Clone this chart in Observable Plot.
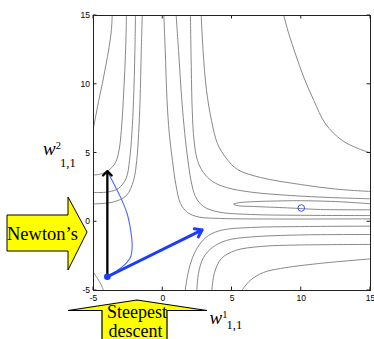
<!DOCTYPE html>
<html><head><meta charset="utf-8">
<script src="https://cdn.jsdelivr.net/npm/d3@7"></script>
<script src="https://cdn.jsdelivr.net/npm/@observablehq/plot@0.6"></script>
<style>
body{margin:0;background:#fff;}
#chart{width:374px;height:339px;overflow:hidden;}
</style></head><body><div id="chart"></div>
<script>
// axis ticks
const xTicks=[-5,0,5,10,15];
const yTicks=[-5,0,5,10,15];
// contour lines of the error surface (w1_1,1 , w2_1,1)
const contourL1=[[-3.65,15],[-3.71,13.91],[-3.88,12.67],[-4.11,11.36],[-4.36,10.05],[-4.62,8.82],[-4.83,7.73],[-5,6.85]];
const contourL2=[[-2.62,15],[-2.66,13.18],[-2.74,11],[-2.85,8.82],[-2.99,6.64],[-3.16,5.18],[-3.41,4.31],[-3.92,3.73],[-4.49,3.47],[-5,3.4]];
const contourL3=[[-1.97,15],[-2.01,12.45],[-2.11,8.82],[-2.23,6.42],[-2.4,4.45],[-2.65,3.14],[-3.2,2.42],[-3.99,2.16],[-5,2.13]];
const contourL4=[[-1.48,15],[-1.55,12.45],[-1.64,8.82],[-1.74,6.42],[-1.88,4.45],[-2.11,3],[-2.62,1.91],[-3.56,1.44],[-5,1.3]];
const contourL5=[[0.08,15],[0.18,12.45],[0.31,8.82],[0.47,6.42],[0.7,4.45],[0.96,2.64],[1.28,1.33],[1.79,0.67],[2.58,0.35],[4.17,0.24],[7.78,0.2],[15,0.21]];
const contourL6=[[0.97,15],[1.14,12.45],[1.38,8.82],[1.59,6.42],[1.82,4.45],[2.04,3],[2.36,1.84],[2.94,1.11],[4.03,0.71],[6.34,0.53],[9.95,0.47],[15,0.45]];
const contourL7=[[2,15],[2.05,11.73],[2.13,8.09],[2.26,5.91],[2.51,4.45],[2.94,3.58],[3.59,2.93],[4.6,2.49],[6.34,2.16],[9.22,1.91],[12.11,1.76],[15,1.67]];
const contourL8=[[2.78,15],[2.91,12.45],[3.16,9.55],[3.52,7.36],[3.95,5.69],[4.6,4.6],[5.4,3.8],[7.06,3.22],[9.95,2.71],[12.47,2.38],[15,2.2]];
const contourL9=[[8.74,15],[9.1,13.67],[9.58,12.21],[10.18,10.51],[10.91,8.82],[11.75,7.12],[12.96,5.91],[14.15,5.31],[15,5.01]];
const contourValley=[[15,1.31],[12.47,1.47],[9.95,1.53],[7.78,1.5],[6.34,1.45],[5.47,1.38],[5.11,1.27],[5.47,1.16],[6.55,1.11],[9.01,1.01],[11.39,0.89],[15,0.87]];
const contourB1=[[1.62,-5],[1.82,-3.76],[2.15,-2.6],[2.65,-1.66],[3.3,-1],[4.31,-0.6],[6.34,-0.42],[9.95,-0.35],[15,-0.32]];
const contourB2=[[2.46,-5],[2.58,-3.76],[2.94,-2.6],[3.59,-1.87],[4.6,-1.36],[6.34,-1.11],[9.95,-0.96],[15,-0.93]];
const contourB3=[[3.54,-5],[3.74,-3.69],[4.24,-2.67],[5.25,-2.09],[7.06,-1.8],[9.95,-1.69],[15,-1.65]];
const contourB4=[[5.71,-5],[6.31,-4.27],[7.27,-3.69],[8.5,-3.4],[11.25,-3.04],[15,-2.7]];
const contourC1=[[-5,-3.69],[-4.71,-4.13],[-4.46,-4.56],[-4.28,-5]];
// steepest descent trajectory
const sdTrajectory=[[-4,-4],[-3.4,-3.62],[-2.81,-3.18],[-2.33,-2.58],[-2.21,-1.85],[-2.28,-0.88],[-2.57,0.58],[-3.05,1.79],[-3.53,2.76],[-3.9,3.49]];
// initial point, first steps and minimum
const startPoint=[-4,-4];
const newtonStep=[-4,3.68];
const sdStep=[2.85,-0.59];
const minimumPoint=[10,1];

const contourSets={L1:contourL1,L2:contourL2,L3:contourL3,L4:contourL4,L5:contourL5,L6:contourL6,L7:contourL7,L8:contourL8,L9:contourL9,V:contourValley,B1:contourB1,B2:contourB2,B3:contourB3,B4:contourB4,C1:contourC1};
const contourRows=Object.entries(contourSets).flatMap(([id,pts])=>pts.map(([x,y])=>({id,x,y})));
const steps=[{x1:startPoint[0],y1:startPoint[1],x2:newtonStep[0],y2:newtonStep[1],c:"newton"},{x1:startPoint[0],y1:startPoint[1],x2:sdStep[0],y2:sdStep[1],c:"sd"}];

const plot=Plot.plot({
  width:374,height:339,marginLeft:93,marginRight:4,marginTop:15,marginBottom:49,
  style:{background:"#fff",overflow:"visible",fontFamily:"'Liberation Sans',Arial,sans-serif",fontSize:"8.5px",color:"#000"},
  x:{domain:[-5,15]},
  y:{domain:[-5,15]},
  marks:[
    Plot.line(contourRows,{x:"x",y:"y",z:"id",stroke:"#7a7a7a",strokeWidth:0.9,curve:"catmull-rom",clip:true}),
    Plot.frame({stroke:"#222",strokeWidth:1}),
    Plot.axisX({ticks:xTicks,tickSize:0,tickPadding:4,label:null,tickFormat:d=>String(d)}),
    Plot.axisY({ticks:yTicks,tickSize:0,tickPadding:3.5,label:null,tickFormat:d=>String(d)}),
    Plot.line(sdTrajectory,{x:d=>d[0],y:d=>d[1],stroke:"#4a68ff",strokeWidth:1.1,curve:"catmull-rom"}),
    Plot.arrow(steps.filter(d=>d.c==="newton"),{x1:"x1",y1:"y1",x2:"x2",y2:"y2",stroke:"#000",strokeWidth:2.3,headLength:4,headAngle:90}),
    Plot.arrow(steps.filter(d=>d.c==="sd"),{x1:"x1",y1:"y1",x2:"x2",y2:"y2",stroke:"#1a3cff",strokeWidth:3,headLength:4,headAngle:70}),
    Plot.dot([startPoint],{x:d=>d[0],y:d=>d[1],r:3.3,fill:"#1a3cff"}),
    Plot.dot([minimumPoint],{x:d=>d[0],y:d=>d[1],r:3.3,stroke:"#3355ff",strokeWidth:1,fill:"none"})
  ]
});

// inward ticks on all four sides, through the plot's scales
const sx=plot.scale("x"), sy=plot.scale("y");
const svg=d3.select(plot);
const left=sx.apply(-5), right=sx.apply(15), bottom=sy.apply(-5), topY=sy.apply(15);
const tg=svg.append("g").attr("stroke","#222").attr("stroke-width",1);
for(const v of xTicks){const p=sx.apply(v);
  tg.append("line").attr("x1",p).attr("x2",p).attr("y1",bottom).attr("y2",bottom-3.5);
  tg.append("line").attr("x1",p).attr("x2",p).attr("y1",topY).attr("y2",topY+3.5);}
for(const v of yTicks){const p=sy.apply(v);
  tg.append("line").attr("y1",p).attr("y2",p).attr("x1",left).attr("x2",left+3.5);
  tg.append("line").attr("y1",p).attr("y2",p).attr("x1",right).attr("x2",right-3.5);}

// annotations
const serif="'Liberation Serif','Times New Roman',serif";
const ag=svg.append("g").attr("text-anchor","start");
ag.append("path").attr("d","M7,215 L68,215 L68,197 L87,232 L68,270 L68,251 L7,251 Z")
  .attr("fill","#ffff00").attr("stroke","#000").attr("stroke-width",1);
ag.append("path").attr("d","M68,310.5 L137,300 L207,310.5 L167,310.5 L167,345 L102,345 L102,310.5 Z")
  .attr("fill","#ffff00").attr("stroke","#000").attr("stroke-width",1.2).attr("stroke-linejoin","miter");
ag.append("text").attr("x",7).attr("y",239.5).attr("text-anchor","start").attr("font-family",serif).attr("font-size",18.5).attr("fill","#000").text("Newton\u2019s");
ag.append("text").attr("x",137).attr("y",317.5).attr("text-anchor","middle").attr("font-family",serif).attr("font-size",18).attr("fill","#000").text("Steepest");
ag.append("text").attr("x",135.5).attr("y",336.5).attr("text-anchor","middle").attr("font-family",serif).attr("font-size",18).attr("fill","#000").text("descent");
// axis labels w^1_{1,1} and w^2_{1,1}
function wLabel(x,y,sup,dySup,subX,dySub){
  const t=ag.append("text").attr("x",x).attr("y",y).attr("text-anchor","start").attr("font-family",serif).attr("fill","#000");
  t.append("tspan").attr("font-style","italic").attr("font-size",19).text("w");
  t.append("tspan").attr("font-size",10.5).attr("dy",dySup).text(sup);
  t.append("tspan").attr("font-size",12.5).attr("x",subX).attr("dy",dySub).text("1,1");
}
wLabel(209.5,323.5,"1",-5.2,226.5,10.4);
wLabel(43,155,"2",-6.5,60,18);

document.getElementById("chart").append(plot);
</script></body></html>
